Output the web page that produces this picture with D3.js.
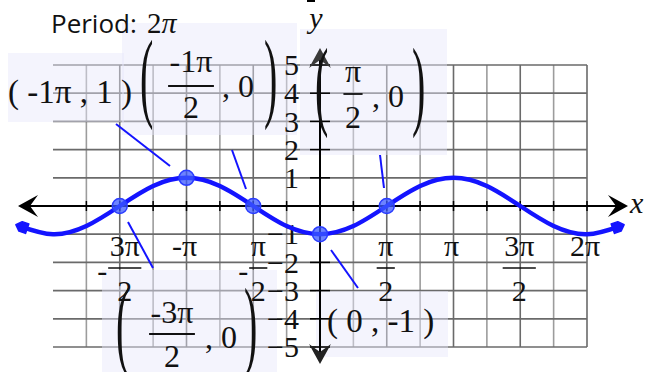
<!DOCTYPE html>
<html>
<head>
<meta charset="utf-8">
<script src="https://cdn.jsdelivr.net/npm/d3@7"></script>
<style>
    body { margin: 0; background: #fff; }
    svg { display: block; }
    text { font-family: 'Liberation Serif', 'Times New Roman', serif; fill: #111; }
</style>
</head>
<body>
<svg id="chart" width="646" height="372"></svg>
<script>
// x values are in steps of pi/4
const curveSteps = [-9, -8, -7, -6, -5, -4, -3, -2, -1, 0, 1, 2, 3, 4, 5, 6, 7, 8, 9];
const curveValues = [-0.71, -1, -0.71, 0, 0.71, 1, 0.71, 0, -0.71, -1, -0.71, 0, 0.71, 1, 0.71, 0, -0.71, -1, -0.71];

const pointSteps = [-6, -4, -2, 0, 2];
const pointValues = [0, 1, 0, -1, 0];

const gridSteps = [-7, -6, -5, -4, -3, -2, -1, 0, 1, 2, 3, 4, 5, 6, 7, 8];
const yTicks = [-5, -4, -3, -2, -1, 1, 2, 3, 4, 5];

const xLabelSteps = [-6, -4, -2, 2, 4, 6, 8];
const xLabelTop = ['3π', '-π', 'π', 'π', 'π', '3π', '2π'];
const xLabelBottom = ['2', '', '2', '2', '', '2', ''];
const xLabelSign = ['-', '', '-', '', '', '', ''];

const periodText = '2π';

const svg = d3.select('#chart');
const x = d3.scaleLinear().domain([-8, 8]).range([53, 587]);
const y = d3.scaleLinear().domain([-5, 5]).range([347, 65]);
const x0 = x(0), y0 = y(0);
const blue = '#1414ff';

// grid
const grid = svg.append('g');
grid.selectAll('line.v')
    .data(gridSteps)
    .join('line')
    .attr('class', 'v')
    .attr('x1', d => x(d)).attr('x2', d => x(d))
    .attr('y1', y(5)).attr('y2', y(-5))
    .attr('stroke', d => (d % 2 === 0 ? '#6a6a6a' : '#9c9c9c'))
    .attr('stroke-width', 1.6);
grid.selectAll('line.h')
    .data(d3.range(-5, 6))
    .join('line')
    .attr('class', 'h')
    .attr('x1', x(-8)).attr('x2', x(8))
    .attr('y1', d => y(d)).attr('y2', d => y(d))
    .attr('stroke', '#6a6a6a')
    .attr('stroke-width', 1.7);

// annotation boxes (layout only)
const boxes = [
    [8, 53, 116, 69],
    [122, 23, 175, 112],
    [300, 29, 147, 126],
    [102, 270, 175, 110],
    [316, 291, 132, 66],
];
svg.append('g')
    .selectAll('rect')
    .data(boxes)
    .join('rect')
    .attr('x', d => d[0]).attr('y', d => d[1])
    .attr('width', d => d[2]).attr('height', d => d[3])
    .attr('fill', '#e6e6fa')
    .attr('fill-opacity', 0.45);

// axes
const axes = svg.append('g');
axes.append('line')
    .attr('x1', 20).attr('x2', 626)
    .attr('y1', y0).attr('y2', y0)
    .attr('stroke', '#000').attr('stroke-width', 2);
axes.append('line')
    .attr('x1', x0).attr('x2', x0)
    .attr('y1', 50).attr('y2', 362)
    .attr('stroke', '#000').attr('stroke-width', 2);
axes.selectAll('line.xt')
    .data(gridSteps.filter(d => d !== 0))
    .join('line')
    .attr('class', 'xt')
    .attr('x1', d => x(d)).attr('x2', d => x(d))
    .attr('y1', y0 - 5).attr('y2', y0 + 5)
    .attr('stroke', '#000').attr('stroke-width', 1.5);
axes.selectAll('line.yt')
    .data(yTicks)
    .join('line')
    .attr('class', 'yt')
    .attr('x1', x0 - 10).attr('x2', x0 + 10)
    .attr('y1', d => y(d)).attr('y2', d => y(d))
    .attr('stroke', '#000').attr('stroke-width', 1.5);

// arrow heads
const arrow = (tx, ty, ang, color) => {
    axes.append('path')
        .attr('d', 'M0,0 L-20,-11 L-12,0 L-20,11 Z')
        .attr('transform', `translate(${tx},${ty}) rotate(${ang})`)
        .attr('fill', color);
};
arrow(628, y0, 0, '#000');
arrow(18, y0, 180, '#000');
arrow(x0, 48, -90, '#3a3a3a');
arrow(x0, 364, 90, '#222');

axes.append('text')
    .attr('x', 630).attr('y', 213)
    .style('font-style', 'italic').style('font-size', '30px')
    .text('x');
axes.append('text')
    .attr('x', 316).attr('y', 28)
    .attr('text-anchor', 'middle')
    .style('font-style', 'italic').style('font-size', '30px')
    .text('y');
axes.append('line')
    .attr('x1', 307).attr('x2', 315).attr('y1', 1).attr('y2', 1)
    .attr('stroke', '#000').attr('stroke-width', 2);

// y tick labels
svg.append('g')
    .selectAll('text')
    .data(yTicks)
    .join('text')
    .attr('x', 299)
    .attr('y', d => y(d))
    .attr('dy', '0.34em')
    .attr('text-anchor', 'end')
    .style('font-size', '30px')
    .text(d => (d < 0 ? '\u2212' + -d : d));

// x tick labels
const xl = svg.append('g');
xLabelSteps.forEach((s, i) => {
    const hasDen = xLabelBottom[i] !== '';
    const cx = x(s) + (xLabelSign[i] ? 5 : hasDen ? -1 : -2);
    const top = xl.append('text')
        .attr('x', cx).attr('y', 256)
        .attr('text-anchor', 'middle')
        .style('font-size', '30px')
        .text(xLabelTop[i]);
    if (!hasDen) return;
    const w = top.node().getComputedTextLength() + 3;
    xl.append('line')
        .attr('x1', cx - w / 2).attr('x2', cx + w / 2)
        .attr('y1', 268).attr('y2', 268)
        .attr('stroke', '#111').attr('stroke-width', 1.6);
    xl.append('text')
        .attr('x', cx).attr('y', 301)
        .attr('text-anchor', 'middle')
        .style('font-size', '30px')
        .text(xLabelBottom[i]);
    if (xLabelSign[i]) {
        xl.append('text')
            .attr('x', cx - w / 2 - 1).attr('y', 281)
            .attr('text-anchor', 'end')
            .style('font-size', '30px')
            .text(xLabelSign[i]);
    }
});

// callout text
const ann = svg.append('g');
const paren = (ch, px, top, bot) => {
    const fs = 40;
    const k = (bot - top) / (0.875 * fs);
    ann.append('text')
        .attr('transform', `translate(${px},${top}) scale(1,${k})`)
        .attr('y', 0.694 * fs)
        .style('font-size', fs + 'px')
        .text(ch);
};
const fracCallout = (c) => {
    paren('(', c.left, c.top, c.bot);
    paren(')', c.right, c.top, c.bot);
    const num = ann.append('text')
        .attr('x', c.cx).attr('y', c.numY)
        .attr('text-anchor', 'middle')
        .style('font-size', '32px')
        .text(c.num);
    const w = num.node().getComputedTextLength() + 3;
    ann.append('line')
        .attr('x1', c.cx - w / 2).attr('x2', c.cx + w / 2)
        .attr('y1', c.barY).attr('y2', c.barY)
        .attr('stroke', '#111').attr('stroke-width', 1.8);
    ann.append('text')
        .attr('x', c.cx).attr('y', c.denY)
        .attr('text-anchor', 'middle')
        .style('font-size', '32px')
        .text(c.den);
    ann.append('text')
        .attr('x', c.tailX).attr('y', c.tailY)
        .attr('xml:space', 'preserve')
        .style('font-size', '32px')
        .text(', 0');
};
fracCallout({ left: 140, right: 264, top: 40, bot: 127, cx: 191, num: '-1π', den: '2', numY: 72, barY: 86, denY: 118, tailX: 222, tailY: 97 });
fracCallout({ left: 315, right: 412, top: 48, bot: 135, cx: 353, num: 'π', den: '2', numY: 82, barY: 94, denY: 128, tailX: 372, tailY: 107 });
fracCallout({ left: 116, right: 244, top: 288, bot: 375, cx: 172, num: '-3π', den: '2', numY: 323, barY: 334, denY: 367, tailX: 205, tailY: 348 });
ann.append('text')
    .attr('x', 8).attr('y', 103)
    .attr('xml:space', 'preserve')
    .style('font-size', '33px')
    .text('( -1π , 1 )');
ann.append('text')
    .attr('x', 327).attr('y', 332)
    .attr('xml:space', 'preserve')
    .style('font-size', '33px')
    .text('( 0 , -1 )');

// leader lines
const leaders = [
    [116, 124, 170, 166],
    [232, 150, 246, 189],
    [380, 155, 384, 188],
    [128, 222, 153, 268],
    [331, 250, 358, 288],
];
svg.append('g')
    .selectAll('line')
    .data(leaders)
    .join('line')
    .attr('x1', d => d[0]).attr('y1', d => d[1])
    .attr('x2', d => d[2]).attr('y2', d => d[3])
    .attr('stroke', blue).attr('stroke-width', 2);

// curve
const defs = svg.append('defs');
defs.append('marker')
    .attr('id', 'cap')
    .attr('viewBox', '-8 -7 16 14')
    .attr('refX', 3).attr('refY', 0)
    .attr('markerWidth', 16).attr('markerHeight', 14)
    .attr('markerUnits', 'userSpaceOnUse')
    .attr('orient', 'auto-start-reverse')
    .append('path')
    .attr('d', 'M-5,-5 L2,-5 L7,0 L2,5 L-5,5 Z')
    .attr('fill', blue)
    .attr('stroke', blue)
    .attr('stroke-linejoin', 'round')
    .attr('stroke-width', 1.5);

const line = d3.line()
    .x(d => x(d[0]))
    .y(d => y(d[1]))
    .curve(d3.curveNatural);
svg.append('path')
    .datum(d3.zip(curveSteps, curveValues))
    .attr('d', line)
    .attr('fill', 'none')
    .attr('stroke', blue)
    .attr('stroke-width', 4.5)
    .attr('marker-start', 'url(#cap)')
    .attr('marker-end', 'url(#cap)');

svg.append('g')
    .selectAll('circle')
    .data(d3.zip(pointSteps, pointValues))
    .join('circle')
    .attr('cx', d => x(d[0]))
    .attr('cy', d => y(d[1]))
    .attr('r', 7.5)
    .attr('fill', '#3c5aff')
    .attr('fill-opacity', 0.75)
    .attr('stroke', '#2a3cff')
    .attr('stroke-width', 1.5);

// title
const title = svg.append('text').attr('x', 51).attr('y', 33);
title.append('tspan')
    .style('font-family', "'Open Sans', sans-serif")
    .style('font-size', '26px')
    .text('Period:');
title.append('tspan')
    .attr('x', 147)
    .style('font-size', '29px')
    .text(periodText.slice(0, 1));
title.append('tspan')
    .style('font-style', 'italic')
    .style('font-size', '30px')
    .text(periodText.slice(1));
</script>
</body>
</html>
